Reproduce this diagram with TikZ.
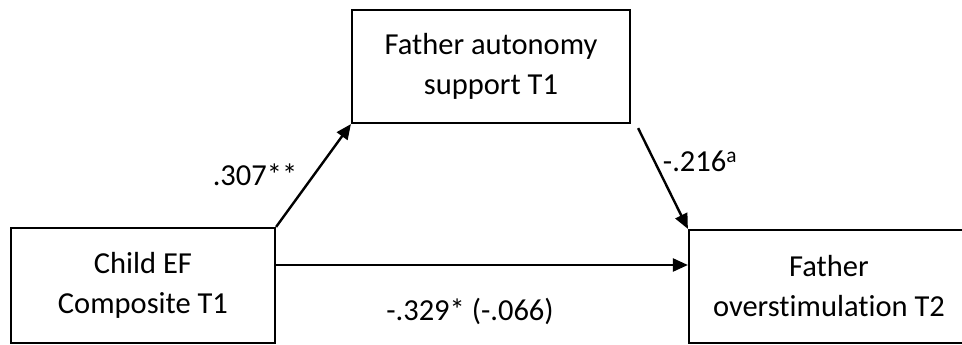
\documentclass[tikz,border=0pt]{standalone}
\usepackage{fontspec}
\setmainfont[Ligatures=NoCommon]{Carlito}
\usetikzlibrary{arrows.meta}
\begin{document}
\begin{tikzpicture}[x=1pt,y=-1pt,
  every node/.style={font=\fontsize{30.5}{40}\selectfont},
  varbox/.style={draw, line width=2.2pt, rectangle, align=center, inner sep=0pt},
  path/.style={line width=2.4pt, -{Triangle[length=15pt,width=13pt]}},
  coef/.style={inner sep=0pt}]
  \useasboundingbox (0,0) rectangle (962,345);
  \clip (0,0) rectangle (962,345);
  % variables
  \node[varbox, minimum width=264pt, minimum height=115pt] (ef) at (143,285.5)
    {Child EF\\Composite T1};
  \node[varbox, minimum width=278pt, minimum height=113pt] (aut) at (491,66.5)
    {Father autonomy\\support T1};
  \node[varbox, minimum width=280pt, minimum height=113pt] (over) at (829,286.5)
    {Father\\overstimulation T2};
  % paths
  \draw[path] (ef.north east) -- (aut.south west);
  \coordinate (m0) at ([xshift=7pt,yshift=-4pt]aut.south east);
  \draw[path] (m0) -- (over.north west);
  \coordinate (d0) at ([yshift=20.5pt]ef.east);
  \draw[path] (d0) -- (d0 -| over.west);
  % coefficients
  \node[coef] (a) at (255,175) {.307**};
  \node[coef] (b) at (700,161) {-.216\textsuperscript{a}};
  \node[coef] (c) at (470,311) {-.329* (-.066)};
\end{tikzpicture}
\end{document}
